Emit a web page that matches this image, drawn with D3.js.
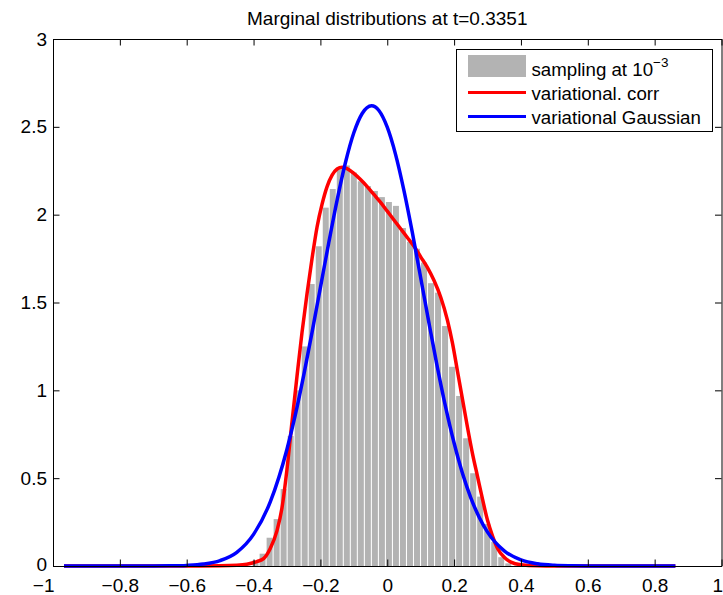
<!DOCTYPE html>
<html><head><meta charset="utf-8">
<script src="https://cdn.jsdelivr.net/npm/d3@7"></script>
<style>
body{margin:0;background:#fff;}
svg{display:block;}
text{font-family:"Liberation Sans",Arial,Helvetica,sans-serif;fill:#000;}
</style>
</head><body>
<svg id="chart" width="723" height="595"></svg>
<script>
// ---------- data ----------
const titleText = "Marginal distributions at t=0.3351";
const legendLabels = ["sampling at 10", "variational. corr", "variational Gaussian"];
const legendSup = "\u22123";

const xTicks = [-1, -0.8, -0.6, -0.4, -0.2, 0, 0.2, 0.4, 0.6, 0.8, 1];
const xTickLabels = ["\u22121", "\u22120.8", "\u22120.6", "\u22120.4", "\u22120.2", "0", "0.2", "0.4", "0.6", "0.8", "1"];
const yTicks = [0, 0.5, 1, 1.5, 2, 2.5, 3];
const yTickLabels = ["0", "0.5", "1", "1.5", "2", "2.5", "3"];

const binWidth = 0.021;
const binCenters = [-0.394, -0.373, -0.352, -0.331, -0.310, -0.289, -0.268, -0.247, -0.226, -0.205,
  -0.184, -0.163, -0.142, -0.121, -0.100, -0.079, -0.058, -0.037, -0.016, 0.005,
  0.026, 0.047, 0.068, 0.089, 0.110, 0.131, 0.152, 0.173, 0.194, 0.215,
  0.236, 0.257, 0.278, 0.299, 0.320, 0.341, 0.362];
const binHeights = [0.032, 0.07, 0.161, 0.267, 0.438, 0.74, 1.0, 1.25, 1.605, 1.82,
  2.04, 2.146, 2.27, 2.28, 2.24, 2.19, 2.163, 2.135, 2.10, 2.072,
  2.05, 1.924, 1.846, 1.806, 1.727, 1.61, 1.556, 1.366, 1.134, 0.968,
  0.727, 0.528, 0.395, 0.239, 0.137, 0.05, 0.015];

const corrX = [-0.967, -0.6, -0.5, -0.45, -0.42, -0.39, -0.37, -0.35, -0.33, -0.315,
  -0.30, -0.285, -0.27, -0.255, -0.24, -0.225, -0.21, -0.195, -0.18, -0.165,
  -0.15, -0.135, -0.12, -0.10, -0.08, -0.06, -0.04, -0.02, 0.0, 0.02,
  0.04, 0.06, 0.08, 0.10, 0.12, 0.14, 0.16, 0.18, 0.195, 0.21,
  0.225, 0.24, 0.255, 0.27, 0.285, 0.30, 0.315, 0.33, 0.35, 0.37,
  0.40, 0.45, 0.5, 0.862];
const corrY = [0, 0, 0.001, 0.004, 0.01, 0.025, 0.042, 0.1, 0.2, 0.33,
  0.55, 0.82, 1.08, 1.33, 1.55, 1.75, 1.93, 2.06, 2.16, 2.225,
  2.26, 2.27, 2.262, 2.235, 2.20, 2.16, 2.115, 2.07, 2.02, 1.97,
  1.92, 1.87, 1.82, 1.76, 1.70, 1.625, 1.53, 1.40, 1.27, 1.11,
  0.95, 0.79, 0.64, 0.51, 0.38, 0.26, 0.17, 0.10, 0.05, 0.022,
  0.007, 0.001, 0, 0];

const gaussX = [-0.967, -0.8, -0.7, -0.65, -0.6, -0.55, -0.5, -0.45, -0.4, -0.35,
  -0.3, -0.275, -0.25, -0.225, -0.2, -0.175, -0.15, -0.125, -0.1, -0.075,
  -0.047, -0.025, 0, 0.025, 0.05, 0.075, 0.1, 0.125, 0.15, 0.175,
  0.2, 0.225, 0.25, 0.275, 0.3, 0.35, 0.4, 0.45, 0.5, 0.55,
  0.6, 0.7, 0.862];
const gaussY = [0, 0, 0.0003, 0.001, 0.0035, 0.011, 0.031, 0.078, 0.18, 0.365,
  0.665, 0.86, 1.085, 1.33, 1.585, 1.84, 2.083, 2.297, 2.466, 2.576,
  2.62, 2.593, 2.498, 2.342, 2.137, 1.899, 1.641, 1.381, 1.131, 0.902,
  0.700, 0.528, 0.388, 0.278, 0.193, 0.0865, 0.0347, 0.0125, 0.004, 0.0012,
  0.0003, 0, 0];

// ---------- layout ----------
const L = 53, R = 721.5, T = 39, B = 566;
const svg = d3.select("#chart");
const x = d3.scaleLinear().domain([-1, 1]).range([L, R]);
const y = d3.scaleLinear().domain([0, 3]).range([B, T]);
const tickLen = 6.5;
const fs = 19;

// bars
const barFrac = 0.85;
svg.append("g").selectAll("rect").data(binCenters).join("rect")
  .attr("x", (d) => x(d - binWidth * barFrac / 2))
  .attr("width", (d) => x(d + binWidth * barFrac / 2) - x(d - binWidth * barFrac / 2))
  .attr("y", (d, i) => y(binHeights[i]))
  .attr("height", (d, i) => y(0) - y(binHeights[i]))
  .attr("fill", "#b3b3b3");

// curves
const line = d3.line().x(d => x(d[0])).y(d => y(d[1])).curve(d3.curveMonotoneX);
svg.append("path").datum(corrX.map((v, i) => [v, corrY[i]]))
  .attr("d", line).attr("fill", "none").attr("stroke", "#ff0000")
  .attr("stroke-width", 3.5).attr("stroke-linejoin", "round");
svg.append("path").datum(gaussX.map((v, i) => [v, gaussY[i]]))
  .attr("d", line).attr("fill", "none").attr("stroke", "#0000ff")
  .attr("stroke-width", 3.5).attr("stroke-linejoin", "round");

// axes
function styleAxis(g) {
  g.selectAll("path.domain").attr("stroke", "#000").attr("stroke-width", 1).attr("fill", "none");
  g.selectAll(".tick line").attr("stroke", "#000").attr("stroke-width", 1);
  g.selectAll("text").attr("font-size", fs).attr("font-family", "Liberation Sans, Arial, sans-serif").attr("fill", "#000");
}
const xAxisG = svg.append("g").attr("transform", `translate(0,${B})`)
  .call(d3.axisBottom(x).tickValues(xTicks).tickSizeInner(-tickLen).tickSizeOuter(0)
    .tickPadding(13).tickFormat((d, i) => xTickLabels[i]))
  .call(styleAxis);
// end labels kept inside the window, as in the reference
xAxisG.selectAll(".tick text").filter((d) => d === -1).attr("text-anchor", "end").attr("dx", 1);
xAxisG.selectAll(".tick text").filter((d) => d === 1).attr("text-anchor", "end").attr("dx", 1);
svg.append("g").attr("transform", `translate(0,${T})`)
  .call(d3.axisTop(x).tickValues(xTicks).tickSizeInner(-tickLen).tickSizeOuter(0).tickFormat(""))
  .call(styleAxis);
const yAxisG = svg.append("g").attr("transform", `translate(${L},0)`)
  .call(d3.axisLeft(y).tickValues(yTicks).tickSizeInner(-tickLen).tickSizeOuter(0)
    .tickPadding(6).tickFormat((d, i) => yTickLabels[i]))
  .call(styleAxis);
yAxisG.selectAll(".tick text").filter((d) => d === 0).attr("y", -1.5);
svg.append("g").attr("transform", `translate(${R},0)`)
  .call(d3.axisRight(y).tickValues(yTicks).tickSizeInner(-tickLen).tickSizeOuter(0).tickFormat(""))
  .call(styleAxis);

// title
svg.append("text").attr("x", (L + R) / 2).attr("y", 25).attr("text-anchor", "middle")
  .attr("font-size", fs).text(titleText);

// legend
const lg = svg.append("g");
lg.append("rect").attr("x", 456.5).attr("y", 49.5).attr("width", 256).attr("height", 82)
  .attr("fill", "#fff").attr("stroke", "#000").attr("stroke-width", 1);
lg.append("rect").attr("x", 468).attr("y", 55).attr("width", 58).attr("height", 22).attr("fill", "#b3b3b3");
lg.append("line").attr("x1", 468).attr("x2", 526).attr("y1", 92.5).attr("y2", 92.5)
  .attr("stroke", "#ff0000").attr("stroke-width", 3);
lg.append("line").attr("x1", 468).attr("x2", 526).attr("y1", 116.5).attr("y2", 116.5)
  .attr("stroke", "#0000ff").attr("stroke-width", 3);
const lfs = 18.7;
const t0 = lg.append("text").attr("x", 531.5).attr("y", 76).attr("font-size", lfs);
t0.append("tspan").text(legendLabels[0]);
t0.append("tspan").attr("font-size", 13.5).attr("dy", -9).text(legendSup);
lg.append("text").attr("x", 531.5).attr("y", 100).attr("font-size", lfs).text(legendLabels[1]);
lg.append("text").attr("x", 531.5).attr("y", 124).attr("font-size", lfs).text(legendLabels[2]);
</script>
</body></html>
